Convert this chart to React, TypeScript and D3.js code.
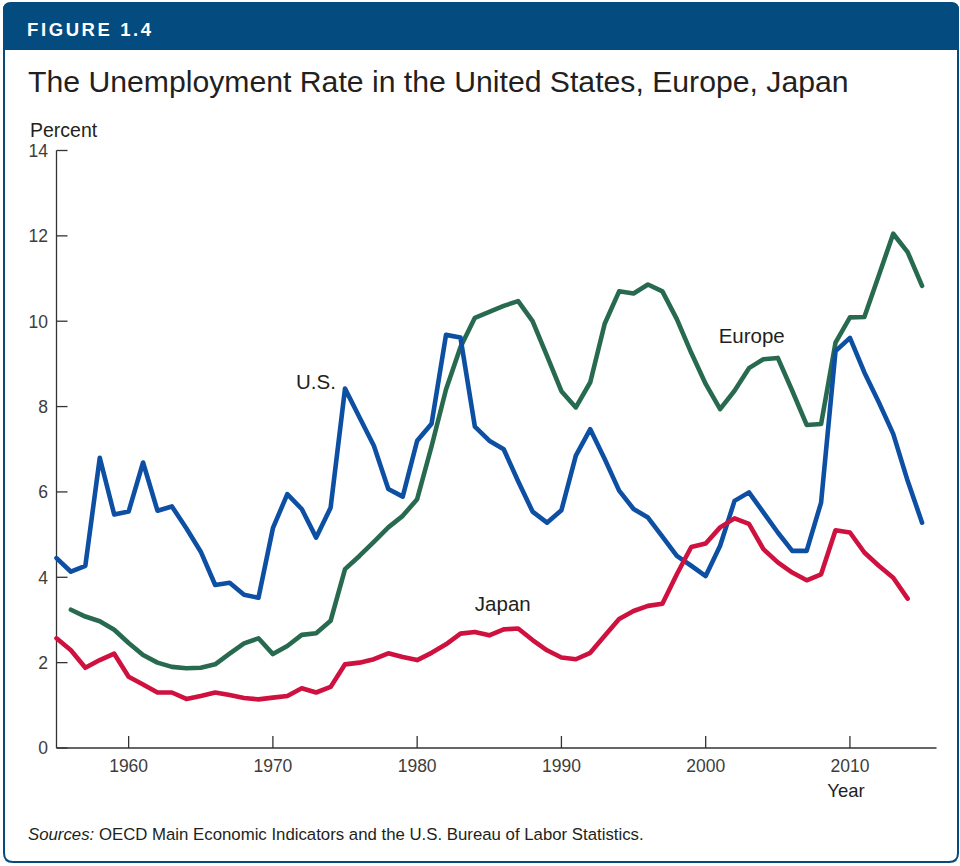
import React from "react";
import * as d3 from "d3";

const usYears = d3.range(1955, 2016);
const usRate = [4.45, 4.13, 4.27, 6.8, 5.47, 5.54, 6.69, 5.56, 5.66, 5.15, 4.6, 3.82, 3.87, 3.59, 3.52, 5.15, 5.95, 5.6, 4.93, 5.63, 8.42, 7.75, 7.08, 6.07, 5.89, 7.2, 7.6, 9.68, 9.62, 7.53, 7.2, 7.0, 6.25, 5.54, 5.28, 5.57, 6.85, 7.47, 6.77, 6.03, 5.6, 5.4, 4.95, 4.5, 4.27, 4.03, 4.74, 5.79, 5.99, 5.52, 5.05, 4.62, 4.62, 5.75, 9.3, 9.61, 8.8, 8.1, 7.36, 6.26, 5.28];

const euYears = d3.range(1956, 2016);
const euRate = [3.24, 3.08, 2.97, 2.77, 2.46, 2.18, 2.0, 1.9, 1.87, 1.88, 1.96, 2.21, 2.45, 2.57, 2.2, 2.39, 2.65, 2.69, 2.98, 4.19, 4.5, 4.83, 5.17, 5.44, 5.83, 7.07, 8.4, 9.39, 10.08, 10.22, 10.36, 10.47, 10.0, 9.19, 8.36, 7.98, 8.57, 9.94, 10.7, 10.65, 10.86, 10.7, 10.05, 9.26, 8.53, 7.94, 8.37, 8.9, 9.11, 9.14, 8.37, 7.57, 7.59, 9.5, 10.09, 10.1, 11.07, 12.05, 11.62, 10.83];

const jpYears = d3.range(1955, 2015);
const jpRate = [2.57, 2.29, 1.88, 2.06, 2.21, 1.67, 1.49, 1.3, 1.3, 1.15, 1.22, 1.3, 1.24, 1.17, 1.14, 1.18, 1.22, 1.4, 1.3, 1.43, 1.96, 2.0, 2.08, 2.22, 2.13, 2.06, 2.23, 2.43, 2.68, 2.72, 2.64, 2.78, 2.8, 2.53, 2.29, 2.12, 2.08, 2.23, 2.63, 3.02, 3.21, 3.33, 3.38, 4.07, 4.71, 4.79, 5.17, 5.38, 5.25, 4.66, 4.35, 4.11, 3.93, 4.07, 5.1, 5.05, 4.58, 4.27, 3.99, 3.5];

const yTicks = [0, 2, 4, 6, 8, 10, 12, 14];
const xTicks = [1960, 1970, 1980, 1990, 2000, 2010];

const seriesLabels = [
  { name: "U.S.", year: 1971.6, value: 8.41 },
  { name: "Europe", year: 2000.9, value: 9.49 },
  { name: "Japan", year: 1984.0, value: 3.21 },
];

const W = 960;
const H = 866;
const BLUE_HEAD = "#044b7f";
const TEXT = "#231f20";
const TICK_TEXT = "#3d3d3d";

export default function App() {
  const x = d3.scaleLinear().domain([1955, 2016]).range([56.5, 936.5]);
  const y = d3.scaleLinear().domain([0, 14]).range([748, 150.5]);

  const line = d3
    .line<[number, number]>()
    .x((d) => x(d[0]))
    .y((d) => y(d[1]));

  const series = [
    { years: euYears, vals: euRate, color: "#286a4f" },
    { years: usYears, vals: usRate, color: "#0c4fa3" },
    { years: jpYears, vals: jpRate, color: "#cf1140" },
  ];

  const sans = "'Liberation Sans', Arial, Helvetica, sans-serif";

  return (
    <svg
      width={W}
      height={H}
      viewBox={`0 0 ${W} ${H}`}
      style={{ position: "absolute", left: 0, top: 0, background: "#fff" }}
    >
      {/* frame */}
      <path
        d={`M4,10 Q4,3 11,3 L951,3 Q958,3 958,10 L958,853 Q958,862 949,862 L13,862 Q4,862 4,853 Z`}
        fill="#fff"
        stroke={BLUE_HEAD}
        strokeWidth={2}
      />
      <path
        d={`M3,10 Q3,2.5 10.5,2.5 L951.5,2.5 Q959,2.5 959,10 L959,50 L3,50 Z`}
        fill={BLUE_HEAD}
      />
      <text
        x={27}
        y={36}
        fill="#fff"
        fontFamily={sans}
        fontWeight="bold"
        fontSize={18.5}
        letterSpacing={2.6}
      >
        FIGURE 1.4
      </text>
      <text x={28} y={92} fill={TEXT} fontFamily={sans} fontSize={30.2}>
        The Unemployment Rate in the United States, Europe, Japan
      </text>
      <text x={30} y={137} fill={TEXT} fontFamily={sans} fontSize={19.5}>
        Percent
      </text>

      {/* axes */}
      <line x1={x(1955)} x2={x(1955)} y1={y(14)} y2={y(0)} stroke="#333" strokeWidth={1.3} />
      <line x1={x(1955)} x2={x(2016)} y1={y(0)} y2={y(0)} stroke="#333" strokeWidth={1.3} />
      {yTicks.map((t) => (
        <g key={t}>
          <line x1={x(1955)} x2={x(1955) + 11} y1={y(t)} y2={y(t)} stroke="#333" strokeWidth={1.3} />
          <text
            x={48}
            y={y(t)}
            dy="0.36em"
            textAnchor="end"
            fill={TICK_TEXT}
            fontFamily={sans}
            fontSize={17.5}
          >
            {t}
          </text>
        </g>
      ))}
      {xTicks.map((t) => (
        <g key={t}>
          <line x1={x(t)} x2={x(t)} y1={y(0)} y2={y(0) - 12} stroke="#333" strokeWidth={1.3} />
          <text
            x={x(t)}
            y={772}
            textAnchor="middle"
            fill={TICK_TEXT}
            fontFamily={sans}
            fontSize={17.5}
          >
            {t}
          </text>
        </g>
      ))}
      <text x={846} y={797} textAnchor="middle" fill={TEXT} fontFamily={sans} fontSize={18.5}>
        Year
      </text>

      {/* lines */}
      {series.map((s, i) => (
        <path
          key={i}
          d={line(s.years.map((yr, j) => [yr, s.vals[j]] as [number, number])) || ""}
          fill="none"
          stroke={s.color}
          strokeWidth={4.6}
          strokeLinejoin="round"
          strokeLinecap="round"
        />
      ))}

      {seriesLabels.map((l) => (
        <text
          key={l.name}
          x={x(l.year)}
          y={y(l.value)}
          fill={TEXT}
          fontFamily={sans}
          fontSize={20.5}
        >
          {l.name}
        </text>
      ))}

      <text x={28} y={840} fill={TEXT} fontFamily={sans} fontSize={16.8}>
        <tspan fontStyle="italic">Sources:</tspan> OECD Main Economic Indicators and the U.S. Bureau of Labor Statistics.
      </text>
    </svg>
  );
}
